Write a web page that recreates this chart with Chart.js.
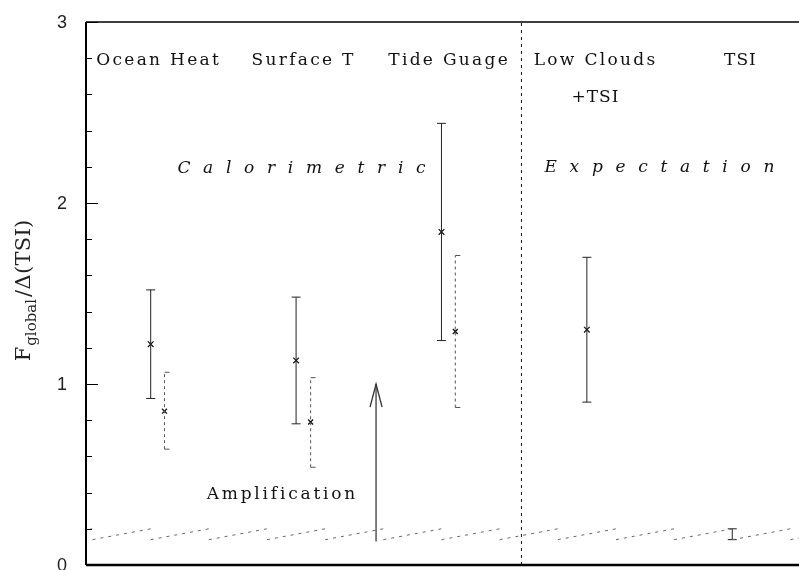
<!DOCTYPE html>
<html>
<head>
<meta charset="utf-8">
<script src="https://cdn.jsdelivr.net/npm/chart.js"></script>
<style>
    html, body { margin: 0; padding: 0; background: #fff; }
    canvas { display: block; }
</style>
</head>
<body>
<canvas id="ampChart" width="799" height="570"></canvas>
<script>
// --- data ---
const categories = ['Ocean Heat', 'Surface T', 'Tide Guage', 'Low Clouds +TSI', 'TSI'];
const catX = [1, 2, 3, 4, 5];

// solid bars (first estimate per category)
const solidMid = [1.22, 1.13, 1.84, 1.30, null];
const solidLow = [0.92, 0.78, 1.24, 0.90, 0.14];
const solidHigh = [1.52, 1.48, 2.44, 1.70, 0.20];

// dashed bars (second estimate, first three categories)
const dashedX = [1.095, 2.10, 3.095];
const dashedMid = [0.85, 0.79, 1.29];
const dashedLow = [0.64, 0.54, 0.87];
const dashedHigh = [1.065, 1.035, 1.71];

// TSI-only band (sawtooth) along the bottom
const sawBreaks = [0.2, 0.6, 1.0, 1.4, 1.8, 2.2, 2.6, 3.0, 3.4, 3.8, 4.2, 4.6, 5.0, 5.4, 5.8];
const sawLow = 0.14;
const sawHigh = 0.20;

// divider and amplification arrow
const dividerX = 3.55;
const arrowX = 2.55;
const arrowFrom = 0.13;
const arrowTo = 1.0;

const yMajorTicks = [0, 1, 2, 3];
const yMinorStep = 0.2;

// annotations: text, centre x, baseline y (data units)
const labels = [
    { text: 'Ocean Heat', x: 1.047, y: 2.76, spacing: 2.3 },
    { text: 'Surface T', x: 2.044, y: 2.76, spacing: 2.3 },
    { text: 'Tide Guage', x: 3.045, y: 2.76, spacing: 2.3 },
    { text: 'Low Clouds', x: 4.052, y: 2.76, spacing: 2.3 },
    { text: '+TSI', x: 4.055, y: 2.558, spacing: 1 },
    { text: 'TSI', x: 5.053, y: 2.76, spacing: 1 },
    { text: 'Amplification', x: 1.896, y: 0.365, spacing: 2.8 }
];
const spacedLabels = [
    { text: 'Calorimetric', x: 2.037, y: 2.168, spacing: 12.7 },
    { text: 'Expectation', x: 4.499, y: 2.171, spacing: 12.7 }
];

// ---------------------------------------------------------------------------------------------

function barSegments(xs, lows, highs) {
    const pts = [];
    xs.forEach(function (x, i) {
        pts.push({ x: x, y: lows[i] });
        pts.push({ x: x, y: highs[i] });
        pts.push({ x: x, y: null });
    });
    return pts;
}

function centres(xs, mids) {
    const pts = [];
    xs.forEach(function (x, i) {
        if (mids[i] !== null) pts.push({ x: x, y: mids[i] });
    });
    return pts;
}

// each tooth is its own dashed stroke (no vertical drop between them)
const sawPoints = [];
for (let i = 0; i < sawBreaks.length - 1; i++) {
    sawPoints.push({ x: sawBreaks[i], y: sawLow });
    sawPoints.push({ x: sawBreaks[i + 1], y: sawHigh });
    sawPoints.push({ x: sawBreaks[i + 1], y: null });
}

// draw text letter by letter so the wide spacing of the original can be kept
function spacedText(c, text, cx, y, spacing) {
    let w = 0;
    for (const ch of text) w += c.measureText(ch).width + spacing;
    w -= spacing;
    let x = cx - w / 2;
    for (const ch of text) {
        c.fillText(ch, x, y);
        x += c.measureText(ch).width + spacing;
    }
}

const framePlugin = {
    id: 'frame',
    afterDraw: function (chart) {
        const c = chart.ctx;
        const a = chart.chartArea;
        const xs = chart.scales.x;
        const ys = chart.scales.y;
        c.save();

        // arrow head
        const tx = xs.getPixelForValue(arrowX);
        const ty = ys.getPixelForValue(arrowTo);
        c.strokeStyle = '#333';
        c.lineWidth = 1.3;
        c.beginPath();
        c.moveTo(tx - 6, ty + 23);
        c.lineTo(tx, ty);
        c.lineTo(tx + 6, ty + 23);
        c.stroke();

        // frame: top, left, bottom
        c.strokeStyle = '#000';
        c.lineWidth = 1.5;
        c.beginPath();
        c.moveTo(a.left, a.top);
        c.lineTo(a.right, a.top);
        c.stroke();
        c.lineWidth = 2;
        c.beginPath();
        c.moveTo(a.left, a.top);
        c.lineTo(a.left, a.bottom);
        c.stroke();
        c.lineWidth = 2.5;
        c.beginPath();
        c.moveTo(a.left, a.bottom);
        c.lineTo(a.right, a.bottom);
        c.stroke();

        // inward ticks on the y axis
        c.lineWidth = 1;
        for (let v = 0; v <= 3.0001; v += yMinorStep) {
            const py = Math.round(ys.getPixelForValue(v)) + 0.5;
            const major = Math.abs(v - Math.round(v)) < 1e-6;
            c.beginPath();
            c.moveTo(a.left, py);
            c.lineTo(a.left + (major ? 12 : 6), py);
            c.stroke();
        }

        // tick labels
        c.fillStyle = '#222';
        c.font = '18px "Liberation Sans", Arial, sans-serif';
        c.textAlign = 'center';
        c.textBaseline = 'middle';
        yMajorTicks.forEach(function (v) {
            c.fillText(String(v), 62, ys.getPixelForValue(v) + 1);
        });

        // y axis title: F_global / Δ(TSI)
        c.save();
        c.translate(30, 291);
        c.rotate(-Math.PI / 2);
        c.textAlign = 'left';
        c.textBaseline = 'alphabetic';
        const big = '21px "DejaVu Serif", serif';
        const small = '15px "DejaVu Serif", serif';
        c.font = big;
        const wF = c.measureText('F').width;
        const wRest = c.measureText('/\u0394(TSI)').width;
        c.font = small;
        const wSub = c.measureText('global').width;
        let x0 = -(wF + wSub + wRest + 4) / 2;
        c.font = big;
        c.fillText('F', x0, 0);
        x0 += wF + 1;
        c.font = small;
        c.fillText('global', x0, 6);
        x0 += wSub + 2;
        c.font = big;
        spacedText(c, '/\u0394(TSI)', x0 + wRest / 2 + 1, 0, 0.3);
        c.restore();

        // annotations
        c.fillStyle = '#111';
        c.textAlign = 'left';
        c.textBaseline = 'alphabetic';
        c.font = '17px "DejaVu Serif", serif';
        labels.forEach(function (l) {
            spacedText(c, l.text, xs.getPixelForValue(l.x), ys.getPixelForValue(l.y), l.spacing);
        });
        c.font = 'italic 17px "DejaVu Serif", serif';
        spacedLabels.forEach(function (l) {
            spacedText(c, l.text, xs.getPixelForValue(l.x), ys.getPixelForValue(l.y), l.spacing);
        });

        c.restore();
    }
};

const ctx = document.getElementById('ampChart');

new Chart(ctx, {
    type: 'scatter',
    data: {
        datasets: [
            {
                label: 'TSI band',
                data: sawPoints,
                showLine: true,
                spanGaps: false,
                borderColor: '#666',
                borderWidth: 1,
                borderDash: [3, 5],
                pointRadius: 0
            },
            {
                label: 'divider',
                data: [{ x: dividerX, y: 0 }, { x: dividerX, y: 3 }],
                showLine: true,
                borderColor: '#111',
                borderWidth: 1,
                borderDash: [3, 4],
                pointRadius: 0
            },
            {
                label: 'amplification',
                data: [{ x: arrowX, y: arrowFrom }, { x: arrowX, y: arrowTo }],
                showLine: true,
                borderColor: '#555',
                borderWidth: 1.5,
                pointRadius: 0
            },
            {
                label: 'range (solid)',
                data: barSegments(catX, solidLow, solidHigh),
                showLine: true,
                spanGaps: false,
                borderColor: '#222',
                borderWidth: 1,
                pointStyle: 'line',
                pointRadius: 4.5,
                pointBorderWidth: 1,
                pointBorderColor: '#222'
            },
            {
                label: 'range (dashed)',
                data: barSegments(dashedX, dashedLow, dashedHigh),
                showLine: true,
                spanGaps: false,
                borderColor: '#555',
                borderWidth: 1,
                borderDash: [3, 3],
                pointStyle: 'dash',
                pointRadius: 5,
                pointBorderWidth: 1,
                pointBorderColor: '#555'
            },
            {
                label: 'estimate (solid)',
                data: centres(catX, solidMid),
                pointStyle: 'crossRot',
                pointRadius: 4,
                pointBorderWidth: 1.2,
                pointBorderColor: '#111'
            },
            {
                label: 'estimate (dashed)',
                data: centres(dashedX, dashedMid),
                pointStyle: 'crossRot',
                pointRadius: 3.5,
                pointBorderWidth: 1.3,
                pointBorderColor: '#111'
            }
        ]
    },
    options: {
        responsive: false,
        animation: false,
        events: [],
        layout: {
            autoPadding: false,
            padding: { left: 86, right: 0, top: 22, bottom: 5 }
        },
        plugins: {
            legend: { display: false },
            tooltip: { enabled: false }
        },
        scales: {
            x: { type: 'linear', display: false, min: 0.555, max: 5.459 },
            y: { type: 'linear', display: false, min: 0, max: 3 }
        }
    },
    plugins: [framePlugin]
});
</script>
</body>
</html>
